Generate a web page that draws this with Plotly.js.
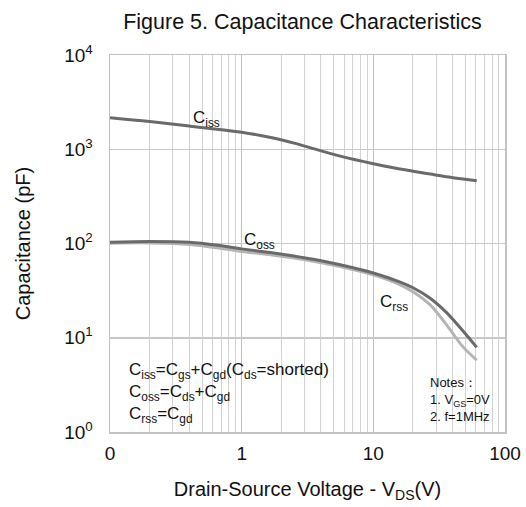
<!DOCTYPE html>
<html>
<head>
<meta charset="utf-8">
<script src="https://cdn.plot.ly/plotly-3.0.1.min.js"></script>
<style>html,body{margin:0;padding:0;background:#fff;}</style>
</head>
<body>
<div id="chart" style="width:526px;height:507px;"></div>
<script>
// Drain-source voltage (V); the "0" tick is drawn at 0.1 on the log axis
const vds  = [0.1, 0.2, 0.4, 0.7, 1, 1.7, 2.5, 3.5, 5.6, 10, 16, 20, 27, 36, 48, 61];
const ciss = [2163, 1968, 1763, 1610, 1514, 1324, 1161, 1015, 845, 702, 618, 585, 545, 510, 483, 462];
const coss = [103, 105, 103, 94.4, 87.7, 79.6, 73.6, 68.1, 59.5, 48.6, 38.9, 33.9, 26.3, 18.5, 11.8, 7.9];
const crss = [100.7, 101.4, 97.8, 88.7, 82.4, 75.7, 70.2, 64.9, 57.0, 46.4, 36.4, 30.7, 22.3, 13.7, 8.0, 5.8];

const xTickVals = [0.1, 1, 10, 100];
const xTickText = ['0', '1', '10', '100'];
const yTickVals = [1, 10, 100, 1000, 10000];
const yTickText = ['10<sup>0</sup>', '10<sup>1</sup>', '10<sup>2</sup>', '10<sup>3</sup>', '10<sup>4</sup>'];

const minorVals = [];
[0.1, 1, 10].forEach(d => { for (let k = 2; k <= 9; k++) minorVals.push(k * d); });

const font = 'Liberation Sans, Arial, sans-serif';

const traces = [
  {x: vds, y: crss, mode: 'lines', line: {color: '#b4b4b4', width: 3, shape: 'spline', smoothing: 1}, name: 'Crss'},
  {x: vds, y: coss, mode: 'lines', line: {color: '#6a6a6a', width: 3, shape: 'spline', smoothing: 1}, name: 'Coss'},
  {x: vds, y: ciss, mode: 'lines', line: {color: '#6a6a6a', width: 3, shape: 'spline', smoothing: 1}, name: 'Ciss'}
];

const layout = {
  width: 526, height: 507,
  margin: {l: 110, r: 21, t: 55, b: 75},
  paper_bgcolor: '#ffffff', plot_bgcolor: '#ffffff',
  showlegend: false,
  font: {family: font, color: '#111', size: 19},
  title: {
    text: 'Figure 5. Capacitance Characteristics',
    font: {family: font, size: 21.5, color: '#111'},
    xref: 'container', x: 0.575, xanchor: 'center',
    yref: 'container', y: 0.958, yanchor: 'middle'
  },
  xaxis: {
    type: 'log', range: [-1, 2],
    tickmode: 'array', tickvals: xTickVals, ticktext: xTickText,
    tickfont: {size: 19}, ticks: '', ticklabelstandoff: 4,
    showgrid: true, gridcolor: '#c2c2c2', gridwidth: 1.5,
    minor: {tickmode: 'array', tickvals: minorVals, showgrid: true, gridcolor: '#d2d2d2', gridwidth: 1, ticks: ''},
    showline: true, mirror: true, linecolor: '#c2c2c2', linewidth: 1.5,
    zeroline: false,
    title: {text: 'Drain-Source Voltage - V<sub>DS</sub>(V)', font: {size: 20}, standoff: 18}
  },
  yaxis: {
    type: 'log', range: [0, 4],
    tickmode: 'array', tickvals: yTickVals, ticktext: yTickText,
    tickfont: {size: 19}, ticks: '', ticklabelstandoff: 12,
    showgrid: true, gridcolor: '#c8c8c8', gridwidth: 1.5,
    showline: true, mirror: true, linecolor: '#c2c2c2', linewidth: 1.5,
    zeroline: false,
    title: {text: 'Capacitance (pF)', font: {size: 20}, standoff: 28}
  },
  shapes: [
    {type: 'rect', xref: 'paper', yref: 'paper', x0: 0.004, x1: 0.977, y0: 0.011, y1: 0.207,
     fillcolor: '#ffffff', line: {width: 0}, layer: 'between'}
  ],
  annotations: [
    {text: 'C<sub>iss</sub>', xref: 'x', yref: 'y', x: -0.383, y: 3.35, xanchor: 'left', yanchor: 'middle', showarrow: false, font: {size: 17}, yshift: -3},
    {text: 'C<sub>oss</sub>', xref: 'x', yref: 'y', x: 0.005, y: 2.06, xanchor: 'left', yanchor: 'middle', showarrow: false, font: {size: 17}, yshift: -3},
    {text: 'C<sub>rss</sub>', xref: 'x', yref: 'y', x: 1.038, y: 1.40, xanchor: 'left', yanchor: 'middle', showarrow: false, font: {size: 17}, yshift: -3},
    {text: 'C<sub>iss</sub>=C<sub>gs</sub>+C<sub>gd</sub>(C<sub>ds</sub>=shorted)<br>C<sub>oss</sub>=C<sub>ds</sub>+C<sub>gd</sub><br>C<sub>rss</sub>=C<sub>gd</sub>',
     xref: 'paper', yref: 'paper', x: 0.043, y: 0.103, xanchor: 'left', yanchor: 'middle', align: 'left', showarrow: false, font: {size: 17}},
    {text: 'Notes：<br>1. V<sub>GS</sub>=0V<br>2. f=1MHz',
     xref: 'paper', yref: 'paper', x: 0.806, y: 0.0875, xanchor: 'left', yanchor: 'middle', align: 'left', showarrow: false, font: {size: 13}}
  ]
};

Plotly.newPlot('chart', traces, layout, {displayModeBar: false, staticPlot: true});
</script>
</body>
</html>
